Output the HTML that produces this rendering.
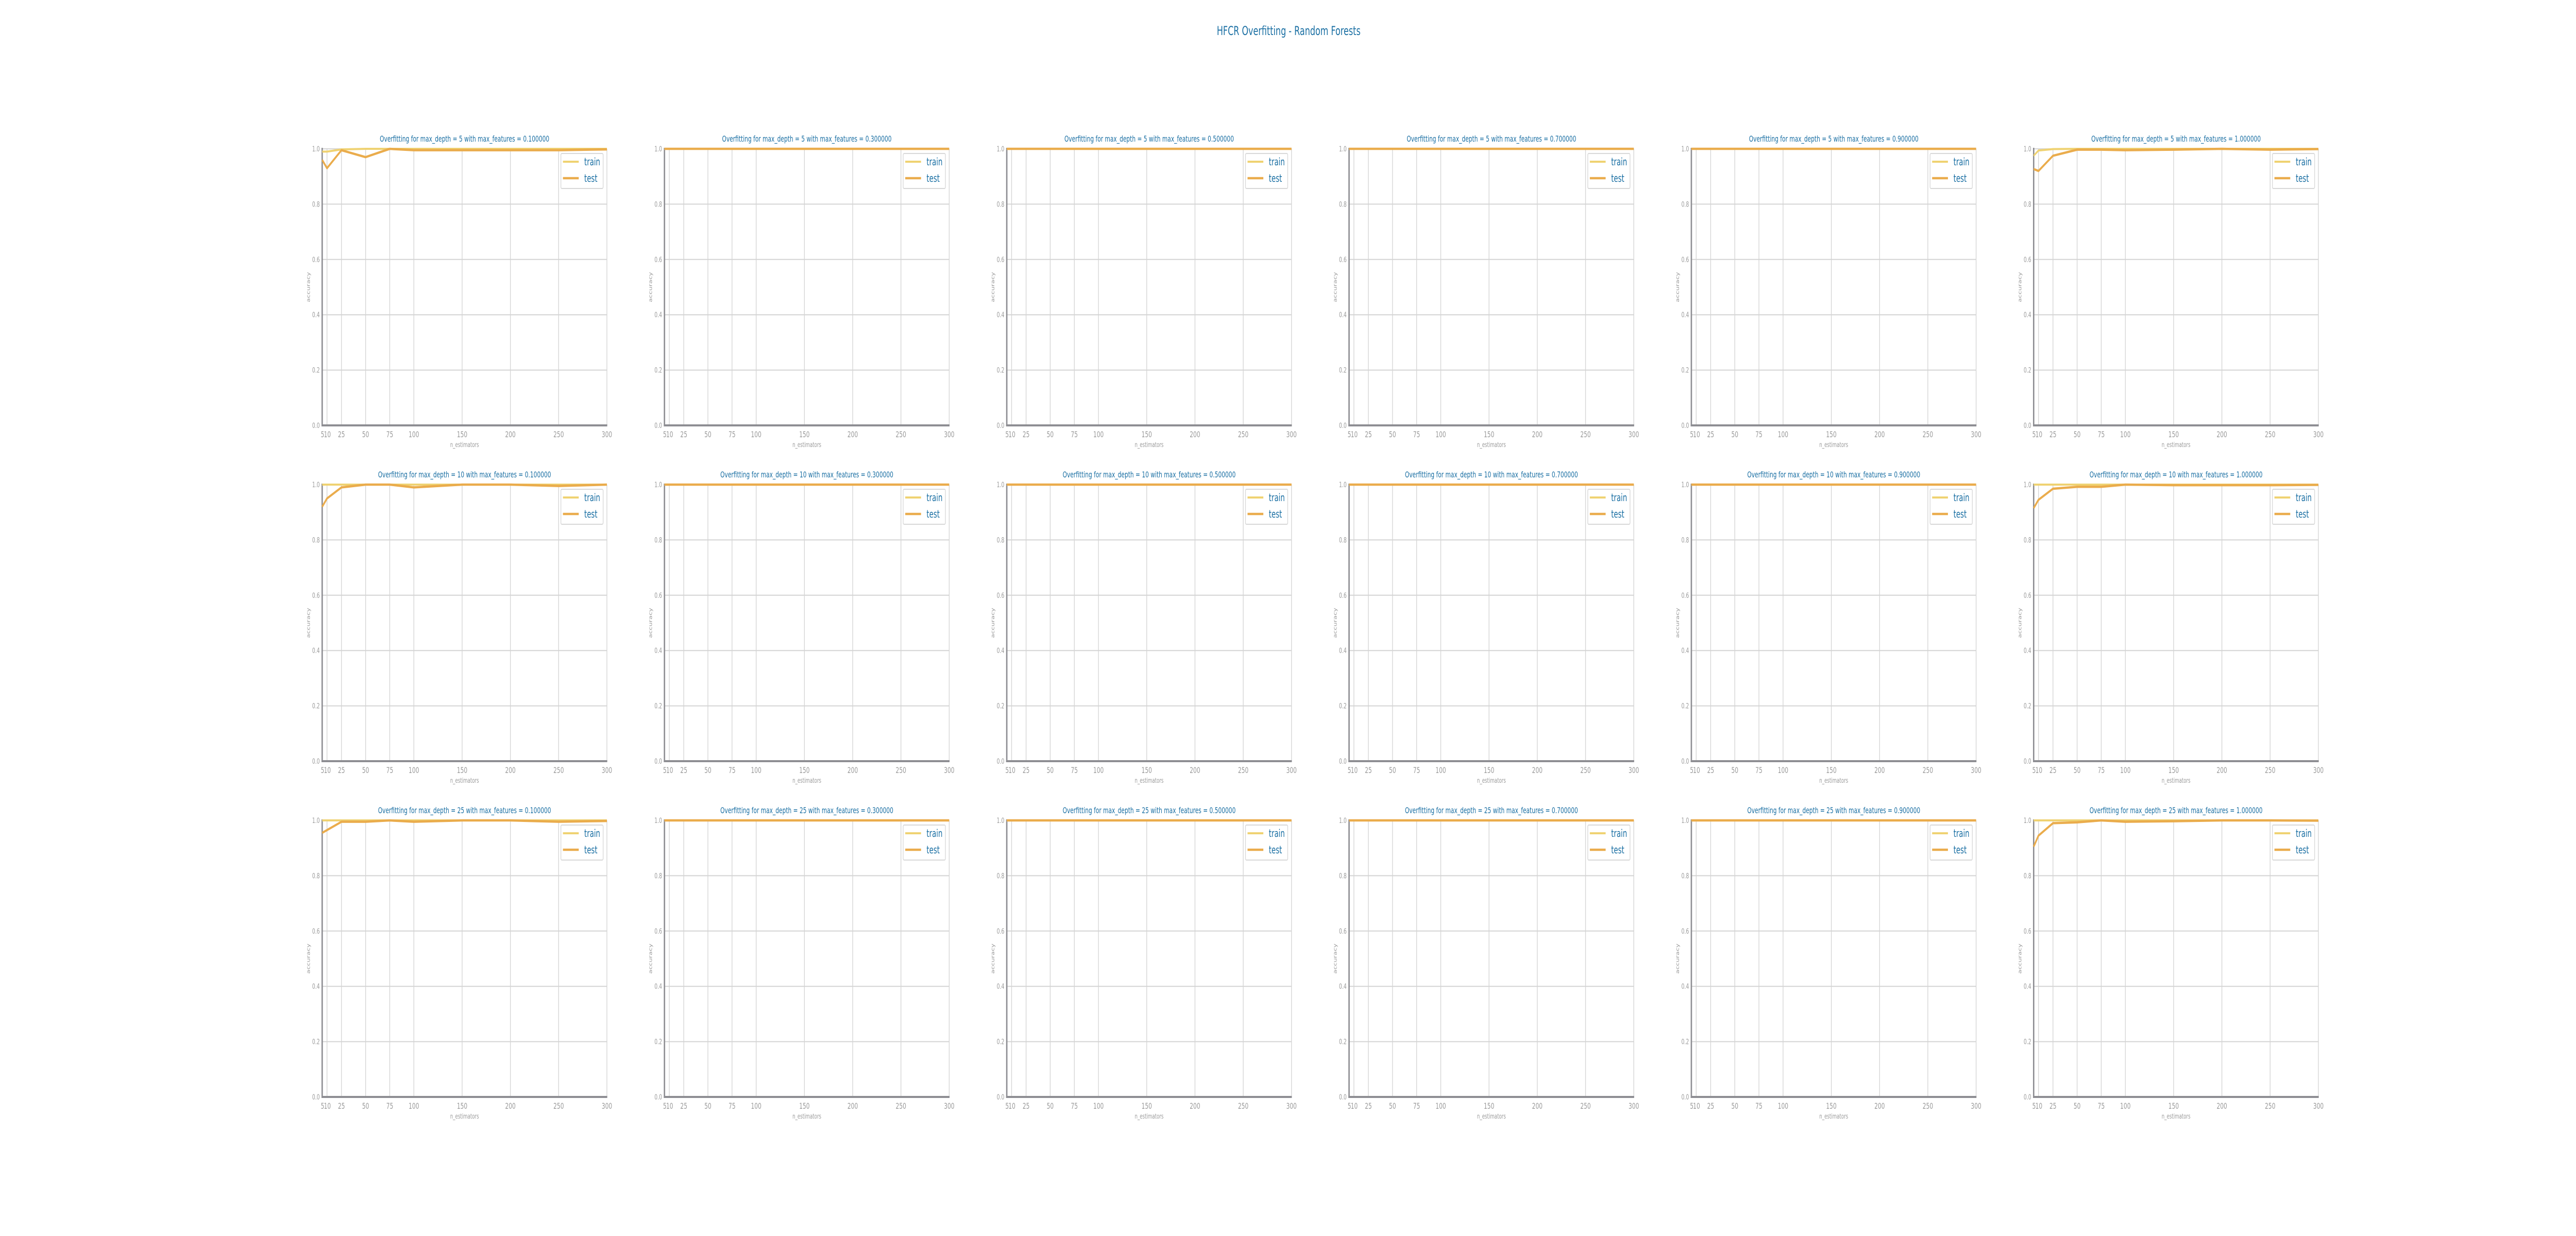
<!DOCTYPE html>
<html><head><meta charset="utf-8">
<style>
html,body{margin:0;padding:0;background:#fff;width:100%;height:100%;overflow:hidden;}
svg{display:block;width:100vw;height:100vh;font-family:"DejaVu Sans","Liberation Sans",sans-serif;}
</style></head>
<body>
<svg id="fig" viewBox="0 0 7500 2400" preserveAspectRatio="none" xmlns="http://www.w3.org/2000/svg">
<rect width="7500" height="2400" fill="#fff"/>
<text x="3752" y="68" text-anchor="middle" font-size="24" fill="#1a6fa3">HFCR Overfitting - Random Forests</text>
</svg>
<script>
const xValues = [5, 10, 25, 50, 75, 100, 150, 200, 250, 300];
const xTicks = [5, 10, 25, 50, 75, 100, 150, 200, 250, 300];
const yTicks = [0.0, 0.2, 0.4, 0.6, 0.8, 1.0];
const depths = [5, 10, 25];
const maxFeatures = ["0.100000", "0.300000", "0.500000", "0.700000", "0.900000", "1.000000"];
const flat = [1, 1, 1, 1, 1, 1, 1, 1, 1, 1];
// train accuracy per depth row, per max_features column
const trainD5 = [
  [0.99, 0.99, 0.998, 1, 1, 1, 1, 1, 1, 1], flat, flat, flat, flat,
  [0.975, 0.994, 0.999, 1, 1, 1, 1, 1, 1, 1]];
const trainD10 = [flat, flat, flat, flat, flat, flat];
const trainD25 = [flat, flat, flat, flat, flat, flat];
// test accuracy
const testD5 = [
  [0.96, 0.93, 0.995, 0.97, 1.0, 0.995, 0.995, 0.995, 0.995, 0.998], flat, flat, flat, flat,
  [0.927, 0.92, 0.975, 0.997, 0.997, 0.995, 0.997, 1.0, 0.997, 0.999]];
const testD10 = [
  [0.92, 0.95, 0.99, 1.0, 1.0, 0.99, 1.0, 1.0, 0.995, 1.0], flat, flat, flat, flat,
  [0.915, 0.945, 0.985, 0.992, 0.992, 1.0, 0.998, 0.998, 0.998, 0.999]];
const testD25 = [
  [0.955, 0.965, 0.995, 0.995, 1.0, 0.995, 1.0, 1.0, 0.995, 0.998], flat, flat, flat, flat,
  [0.905, 0.945, 0.99, 0.993, 1.0, 0.995, 0.997, 1.0, 1.0, 0.999]];
const trainRows = [trainD5, trainD10, trainD25];
const testRows = [testD5, testD10, testD25];

const NS = "http://www.w3.org/2000/svg";
const svg = document.getElementById("fig");
function mk(tag, attrs, parent) {
  const e = document.createElementNS(NS, tag);
  for (const k in attrs) e.setAttribute(k, attrs[k]);
  (parent || svg).appendChild(e);
  return e;
}
const L0 = 938, COLSP = 996.6, T0 = 289, ROWSP = 652, W = 829, H = 537;
const XMIN = 5, XMAX = 300;

for (let r = 0; r < 3; r++) {
  for (let c = 0; c < 6; c++) {
    const left = L0 + c * COLSP, top = T0 + r * ROWSP, bottom = top + H, right = left + W;
    const sx = v => left + (v - XMIN) / (XMAX - XMIN) * W;
    const sy = v => bottom - v * H;
    const g = mk("g", {});
    
    
    yTicks.forEach(t => {
      const ln = mk("line", {x1: left, x2: right, y1: sy(t), y2: sy(t), stroke: "#d4d4d4", "stroke-width": 2}, g);
      
      
      const tx = mk("text", {x: left - 7, y: sy(t) + 5, "text-anchor": "end", "font-size": 14, fill: "#9a9a9a"}, g);
      
      
      tx.textContent = t.toFixed(1);
    });
    xTicks.forEach(t => {
      const ln = mk("line", {x1: sx(t), x2: sx(t), y1: top, y2: bottom, stroke: "#d4d4d4", "stroke-width": 2}, g);
      
      
      const tx = mk("text", {x: sx(t) + (t === 5 ? 1 : t === 10 ? 1 : 0), y: bottom + 23, "text-anchor": "middle", "font-size": 16, fill: "#9a9a9a"}, g);
      
      
      tx.textContent = t;
    });
    const sp1 = mk("line", {x1: left, x2: left, y1: top - 2, y2: bottom + 2, stroke: "#8e8e93", "stroke-width": 4}, g);
    
    
    const sp2 = mk("line", {x1: left - 2, x2: right + 1, y1: bottom, y2: bottom, stroke: "#8e8e93", "stroke-width": 4}, g);
    
    
    const tr = trainRows[r][c], te = testRows[r][c];
    const p1 = mk("polyline", {points: xValues.map((x, i) => sx(x) + "," + sy(tr[i])).join(" "), fill: "none", stroke: "#efd272", "stroke-width": 4, "stroke-linejoin": "round"}, g);
    
    
    const p2 = mk("polyline", {points: xValues.map((x, i) => sx(x) + "," + sy(te[i])).join(" "), fill: "none", stroke: "#eaac4c", "stroke-width": 4.5, "stroke-linejoin": "round"}, g);
    
    
    const ti = mk("text", {x: (left + right) / 2, y: top - 14, "text-anchor": "middle", "font-size": 16, fill: "#1a6fa3"}, g);
    
    
    ti.textContent = "Overfitting for max_depth = " + depths[r] + " with max_features = " + maxFeatures[c];
    const xl = mk("text", {x: (left + right) / 2, y: bottom + 42, "text-anchor": "middle", "font-size": 13, fill: "#9a9a9a"}, g);
    
    
    xl.textContent = "n_estimators";
    const yl = mk("text", {x: 0, y: 0, "text-anchor": "middle", "font-size": 13, fill: "#9a9a9a", transform: "translate(" + (left - 36) + "," + (top + H / 2) + ") rotate(-90)"}, g);
    
    
    yl.textContent = "accuracy";
    const lg = mk("g", {}, g);
    
    
    const lx = right - 134, ly = top + 9;
    mk("rect", {x: lx, y: ly, width: 123, height: 68, rx: 3, fill: "#fff", stroke: "#d8d8d8", "stroke-width": 2}, lg);
    const e1 = mk("line", {x1: lx + 6, x2: lx + 52, y1: ly + 16, y2: ly + 16, stroke: "#efd272", "stroke-width": 4}, lg);
    
    
    const t1 = mk("text", {x: lx + 68, y: ly + 23, "font-size": 20, fill: "#1a6fa3"}, lg);
    
    
    t1.textContent = "train";
    const e2 = mk("line", {x1: lx + 6, x2: lx + 52, y1: ly + 48, y2: ly + 48, stroke: "#eaac4c", "stroke-width": 4.5}, lg);
    
    
    const t2 = mk("text", {x: lx + 68, y: ly + 55, "font-size": 20, fill: "#1a6fa3"}, lg);
    
    
    t2.textContent = "test";
  }
}
</script>
</body></html>
